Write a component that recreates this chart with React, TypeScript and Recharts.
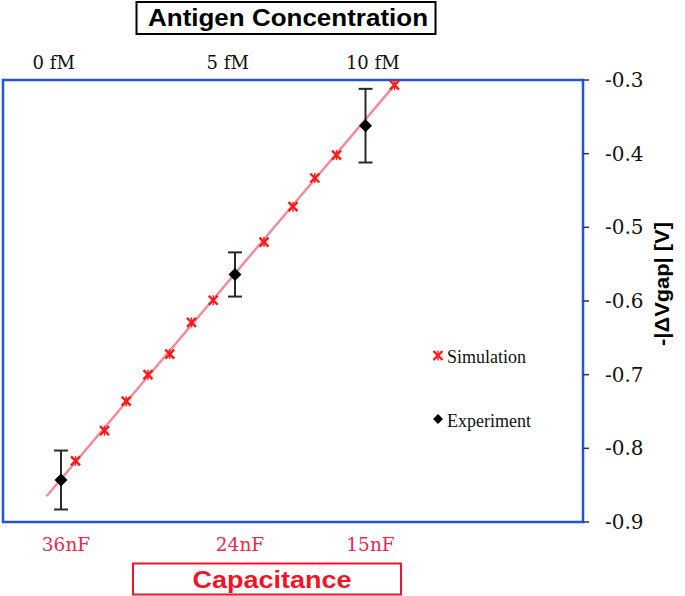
import {
  ComposedChart,
  Line,
  Scatter,
  ErrorBar,
  XAxis,
  YAxis,
  ReferenceArea,
  Legend,
} from 'recharts';

// capacitance (nF) on x, -|ΔVgap| (V) on y
const simCap = [35, 33, 31.5, 30, 28.5, 27, 25.5, 22, 20, 18.5, 17, 13];
const simGap = [-0.817, -0.776, -0.736, -0.7, -0.672, -0.629, -0.599, -0.52, -0.472, -0.433, -0.402, -0.307];

const expCap = [36, 24, 15];
const expGap = [-0.843, -0.564, -0.362];
const expErr = [0.04, 0.03, 0.05];

const trendCap = [37, 13];
const trendGap = [-0.865, -0.307];

const capTicks = [36, 24, 15];
const capLabels = ['36nF', '24nF', '15nF'];
const concTicks = [36.5, 24.5, 14.5];
const concLabels = ['0 fM', '5 fM', '10 fM'];
const gapTicks = [-0.9, -0.8, -0.7, -0.6, -0.5, -0.4, -0.3];
const legendOrder = ['Simulation', 'Experiment'];

const simData = simCap.map((c, i) => ({ c, v: simGap[i] }));
const expData = expCap.map((c, i) => ({ c, v: expGap[i], err: expErr[i] }));
const trendData = trendCap.map((c, i) => ({ c, v: trendGap[i] }));

const RED = '#ff1a1a';
const PINK = '#f28aa0';
const BLUE = '#2152e0';
const SERIF = '"DejaVu Serif", serif';
const TIMES = '"Liberation Serif", serif';
const SANS = '"Liberation Sans", Arial, sans-serif';

const StarMark = ({ cx, cy }: any) => (
  <g stroke={RED} strokeWidth={2.4}>
    <line x1={cx - 4.5} y1={cy - 4.5} x2={cx + 4.5} y2={cy + 4.5} />
    <line x1={cx - 4.5} y1={cy + 4.5} x2={cx + 4.5} y2={cy - 4.5} />
    <line x1={cx} y1={cy - 5} x2={cx} y2={cy + 5} strokeWidth={1.4} />
  </g>
);

const Diamond = ({ cx, cy }: any) => (
  <path d={`M${cx},${cy - 6.5}L${cx + 6.5},${cy}L${cx},${cy + 6.5}L${cx - 6.5},${cy}Z`} fill="#000" />
);

const LegendBox = ({ payload }: any) => {
  const items = (payload || [])
    .filter((p: any) => legendOrder.includes(p.value))
    .sort((a: any, b: any) => legendOrder.indexOf(a.value) - legendOrder.indexOf(b.value));
  return (
    <svg width={130} height={100}>
      {items.map((p: any, i: number) => {
        const y = i * 64;
        return (
          <g key={p.value}>
            {p.value === 'Simulation' ? (
              <StarMark cx={13} cy={y + 15.5} />
            ) : (
              <path d={`M13,${y + 10}L18,${y + 15}L13,${y + 20}L8,${y + 15}Z`} fill="#000" />
            )}
            <text x={22} y={y + 23} fontSize={18} fontFamily={TIMES} fill="#111">
              {p.value}
            </text>
          </g>
        );
      })}
    </svg>
  );
};

const TopTitle = () => (
  <g>
    <rect x={136.5} y={2} width={299} height={32} fill="#fff" stroke="#000" strokeWidth={2} />
    <text x={288} y={26} textAnchor="middle" fontSize={24} fontWeight="bold" fontFamily={SANS}
      textLength={280} lengthAdjust="spacingAndGlyphs" fill="#000">
      Antigen Concentration
    </text>
  </g>
);

const BottomTitle = () => (
  <g>
    <rect x={133} y={563.5} width={268} height={31} fill="#fff" stroke="#f01428" strokeWidth={2} />
    <text x={272} y={587.5} textAnchor="middle" fontSize={24} fontWeight="bold" fontFamily={SANS}
      textLength={159} lengthAdjust="spacingAndGlyphs" fill="#f01428">
      Capacitance
    </text>
  </g>
);

const GapTitle = () => (
  <text x={661} y={284} transform="rotate(-90 661 284)" textAnchor="middle" dominantBaseline="central"
    fontSize={21} fontWeight="bold" fontFamily={SANS} fill="#000" textLength={124}
    lengthAdjust="spacingAndGlyphs">
    -|ΔVgap| [V]
  </text>
);

export default function App() {
  return (
    <div style={{ position: 'absolute', left: 0, top: 0, width: 685, height: 596, background: '#fff' }}>
      <ComposedChart width={685} height={596} margin={{ top: 50, right: 12, bottom: 14, left: 3 }}>
        <XAxis
          xAxisId="top"
          orientation="top"
          dataKey="c"
          type="number"
          domain={[0, 40]}
          allowDataOverflow
          reversed
          ticks={concTicks}
          interval={0}
          tickFormatter={(v: number) => concLabels[concTicks.indexOf(v)]}
          height={30}
          axisLine={false}
          tickLine={false}
          tickSize={0}
          tickMargin={11}
          tick={{ fill: '#111', fontSize: 18, fontFamily: SERIF }}
          label={<TopTitle />}
        />
        <XAxis
          xAxisId="bottom"
          orientation="bottom"
          dataKey="c"
          type="number"
          domain={[0, 40]}
          allowDataOverflow
          reversed
          ticks={capTicks}
          interval={0}
          tickFormatter={(v: number) => capLabels[capTicks.indexOf(v)]}
          height={60}
          axisLine={false}
          tickLine={false}
          tickSize={0}
          tickMargin={16}
          tick={{ fill: '#e8284f', fontSize: 18.5, fontFamily: SERIF, dx: 5 }}
          label={<BottomTitle />}
        />
        <YAxis
          yAxisId="gap"
          orientation="right"
          type="number"
          dataKey="v"
          domain={[-0.9, -0.3]}
          ticks={gapTicks}
          interval={0}
          tickFormatter={(v: number) => v.toFixed(1)}
          width={90}
          axisLine={false}
          tickLine={{ stroke: '#333', strokeWidth: 1.5 }}
          tickSize={6}
          tickMargin={16}
          tick={{ fill: '#111', fontSize: 20, fontFamily: SERIF }}
          label={<GapTitle />}
        />
        <ReferenceArea
          xAxisId="bottom"
          yAxisId="gap"
          x1={0}
          x2={40}
          y1={-0.9}
          y2={-0.3}
          fill="none"
          stroke={BLUE}
          strokeWidth={2.5}
          ifOverflow="visible"
        />
        {/* trend line sits on the top axis (same scale) so that axis has a series */}
        <Line
          xAxisId="top"
          yAxisId="gap"
          data={trendData}
          dataKey="v"
          type="linear"
          stroke={PINK}
          strokeWidth={2.5}
          dot={false}
          legendType="none"
          isAnimationActive={false}
        />
        <Scatter
          xAxisId="bottom"
          yAxisId="gap"
          name="Simulation"
          data={simData}
          dataKey="v"
          fill={RED}
          shape={<StarMark />}
          isAnimationActive={false}
        />
        <Scatter
          xAxisId="bottom"
          yAxisId="gap"
          name="Experiment"
          data={expData}
          dataKey="v"
          fill="#000"
          shape={<Diamond />}
          isAnimationActive={false}
        >
          <ErrorBar dataKey="err" direction="y" width={7} stroke="#2a2a2a" strokeWidth={2} />
        </Scatter>
        <Legend
          layout="vertical"
          align="center"
          verticalAlign="middle"
          content={<LegendBox />}
          wrapperStyle={{ position: 'absolute', left: 425, top: 340, width: 130, height: 100 }}
        />
      </ComposedChart>
    </div>
  );
}
